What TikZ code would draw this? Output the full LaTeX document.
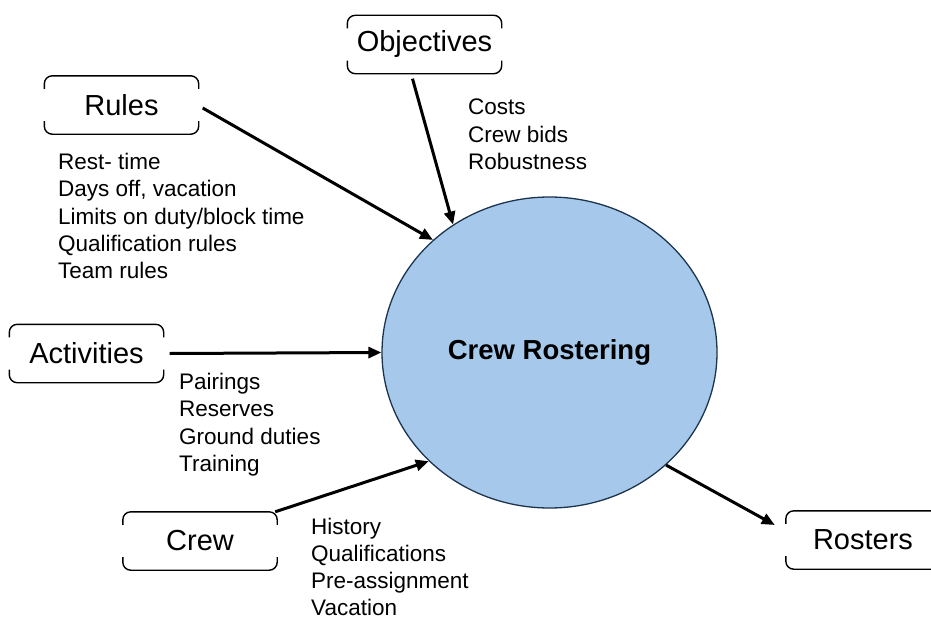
\documentclass[tikz,border=0pt]{standalone}
\usepackage{fontspec}
\setmainfont{Liberation Sans}
\usetikzlibrary{arrows.meta,shapes.geometric}
\definecolor{hubfill}{RGB}{166,201,235}
\definecolor{hubline}{RGB}{28,52,78}
\tikzset{
  bracketbox/.style={rectangle, inner sep=0pt, minimum width=154pt, minimum height=58pt,
    font=\fontsize{29}{34}\selectfont},
  bracket/.style={draw=black, line width=1.4pt, rounded corners=8pt},
  listtext/.style={align=left, inner sep=0pt, anchor=north west,
    font=\fontsize{22.5}{27.3}\selectfont},
  hub/.style={ellipse, minimum width=335pt, minimum height=311pt, inner sep=0pt,
    fill=hubfill, draw=hubline, line width=1.3pt,
    font=\bfseries\fontsize{27.5}{32}\selectfont},
  flow/.style={line width=3pt, -{Triangle[length=13pt,width=11pt]}}
}
\begin{document}
\begin{tikzpicture}[x=1pt,y=-1pt]
  \clip (0,0) rectangle (931,618);

  % central process
  \node[hub] (hub) at (549.5,352.5) {Crew Rostering};

  % inputs and output
  \node[bracketbox] (obj) at (424.5,44.5) {Objectives};
  \node[bracketbox] (rules) at (121.5,105) {Rules};
  \node[bracketbox] (act) at (86.5,353.5) {Activities};
  \node[bracketbox] (crew) at (200,541) {Crew};
  % the output box runs on past the right edge
  \node[bracketbox, minimum width=184pt] (ros) at (878,540) {\hspace*{-30pt}Rosters};

  % open boxes: only the rounded top and bottom brackets are drawn
  \foreach \n in {obj,rules,act,crew,ros} {
    \draw[bracket] ([yshift=-13pt]\n.north west) |- (\n.north east) -- ([yshift=-13pt]\n.north east);
    \draw[bracket] ([yshift=13pt]\n.south west) |- (\n.south east) -- ([yshift=13pt]\n.south east);
  }

  % details of each input
  \node[listtext] (objlist) at (468,99) {Costs\\Crew bids\\Robustness};
  \node[listtext] (ruleslist) at (58,153) {Rest- time\\Days off, vacation\\Limits on duty/block time\\Qualification rules\\Team rules};
  \node[listtext] (actlist) at (179,373) {Pairings\\Reserves\\Ground duties\\Training};
  \node[listtext] (crewlist) at (311,517.5) {History\\Qualifications\\Pre-assignment\\Vacation};

  % flows
  \draw[flow] ([shift={(4pt,-3pt)}]rules.east) -- (hub.136.7);
  \draw[flow] ([xshift=-12pt,yshift=-5pt]obj.south) -- (hub.127.3);
  \draw[flow] ([xshift=6pt]act.east) -- (hub.180);
  \draw[flow] ([xshift=-2pt]crew.north east) -- (hub.222.5);
  \draw[flow] (hub.316.5) -- ([xshift=-11pt,yshift=15pt]ros.west);
\end{tikzpicture}
\end{document}
